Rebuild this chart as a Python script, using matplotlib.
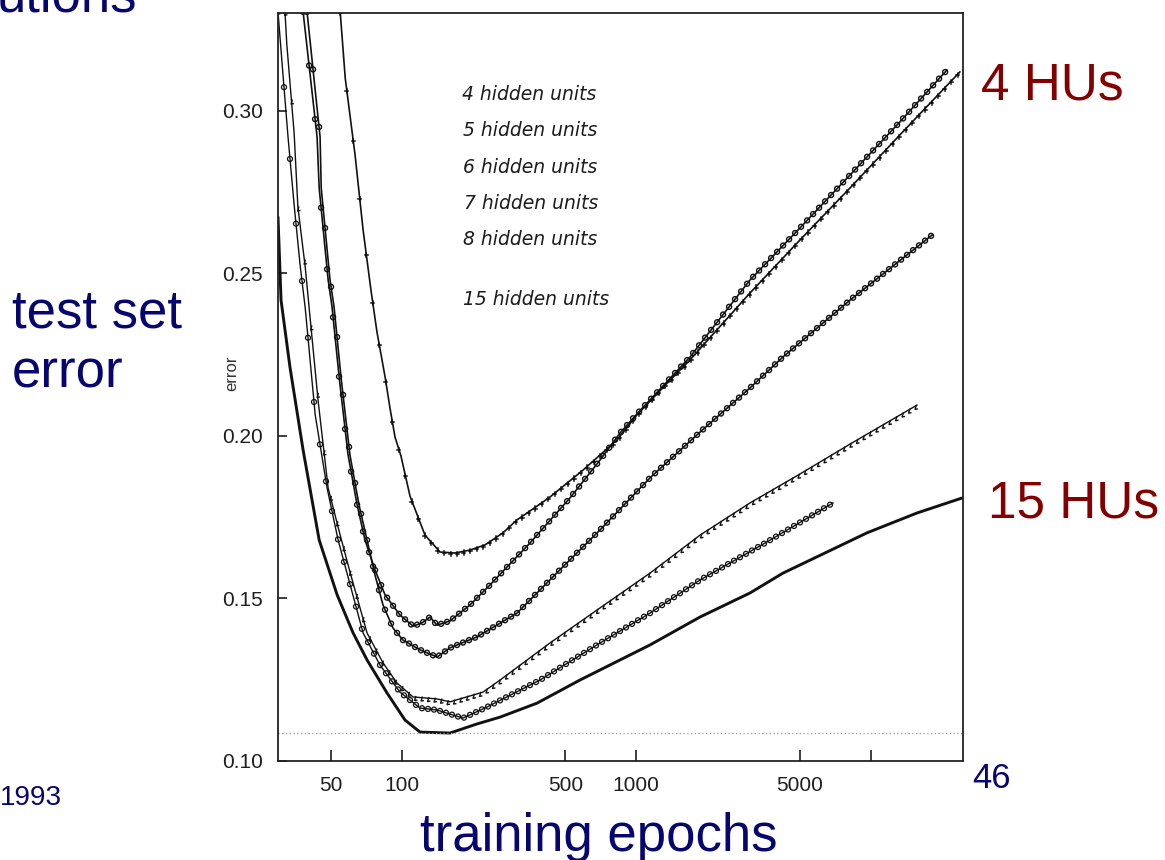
import numpy as np
import matplotlib
matplotlib.use("Agg")
import matplotlib.pyplot as plt
from matplotlib.ticker import FixedLocator, FixedFormatter, NullLocator
from matplotlib.patheffects import AbstractPathEffect
from matplotlib.path import Path
from matplotlib.transforms import Affine2D

# ---- test-set error vs. training epochs, per network size ----
hu4_epochs = [54.7, 57.5, 63.3, 68.5, 74.0, 78.5, 85.0, 89.2, 93.7, 99.4, 108.6, 125.8,
              145.8, 169, 195.7, 227, 270.6, 310.6, 343, 429, 594, 830, 1009, 1397,
              1698, 3062, 5000, 8175, 13330, 24040]
hu4_error = [0.3305, 0.310, 0.2865, 0.2634, 0.2449, 0.2320, 0.2182, 0.2086, 0.1997, 0.1938,
             0.1815, 0.1695, 0.1643, 0.1640, 0.1649, 0.1665, 0.1702, 0.1742, 0.1763, 0.1812,
             0.1895, 0.1988, 0.2065, 0.2172, 0.2234, 0.2440, 0.2603, 0.2763, 0.2926, 0.3120]

hu5_epochs = [38.0, 43.6, 44.5, 48.6, 50.5, 54.2, 59.1, 64.6, 69.8, 77.0, 85.0, 98.4, 111.9,
              122.2, 132.2, 141.6, 160.8, 195.7, 238.4, 353, 522, 702, 854, 1009, 1698,
              3062, 5000, 8175, 13330, 21180]
hu5_error = [0.3305, 0.2920, 0.2763, 0.2480, 0.2397, 0.2178, 0.1942, 0.1788, 0.1680, 0.1588,
             0.1511, 0.1449, 0.1415, 0.1425, 0.1443, 0.1418, 0.1431, 0.1480, 0.1542, 0.1671,
             0.1809, 0.1926, 0.2009, 0.2068, 0.2243, 0.2480, 0.2640, 0.2803, 0.2966, 0.3126]

hu6_epochs = [39.5, 44.9, 45.4, 49.5, 51.5, 55.2, 60.2, 65.8, 71.2, 77.0, 83.3, 91.9, 101.4,
              119.8, 141.6, 160.8, 209.7, 310.6, 473, 702, 1146, 1874, 3062, 4230, 8175, 18280]
hu6_error = [0.3305, 0.2920, 0.2763, 0.2480, 0.2397, 0.2178, 0.1942, 0.1788, 0.1680, 0.1572,
             0.1480, 0.1409, 0.1372, 0.1342, 0.1320, 0.1348, 0.1382, 0.1455, 0.1588, 0.1711,
             0.1871, 0.2012, 0.2148, 0.2243, 0.2418, 0.2618]

hu7_epochs = [31.8, 32.4, 34.8, 36.1, 38.8, 44.0, 48.6, 54.7, 60.2, 71.2, 83.3, 95.5, 111.9,
              141.6, 160.8, 222.4, 262.9, 429, 702, 1146, 1874, 3062, 5000, 8175, 15780]
hu7_error = [0.3305, 0.3203, 0.2932, 0.2705, 0.2520, 0.2111, 0.1840, 0.1695, 0.1582, 0.1394,
             0.1302, 0.1240, 0.1197, 0.1191, 0.1182, 0.1212, 0.1249, 0.1363, 0.1471, 0.1578,
             0.1695, 0.1794, 0.1883, 0.1975, 0.2095]

hu8_epochs = [29.7, 30.9, 32.8, 34.8, 36.9, 38.8, 42.8, 48.1, 53.6, 59.1, 68.5, 80.9, 98.4,
              119.8, 141.6, 182.7, 231.3, 389, 702, 1146, 1874, 3617, 6918]
hu8_error = [0.3305, 0.3148, 0.2917, 0.2711, 0.2526, 0.2394, 0.2065, 0.1840, 0.1680, 0.1566,
             0.1394, 0.1295, 0.1212, 0.1163, 0.1157, 0.1132, 0.1166, 0.1249, 0.1363, 0.1455,
             0.1557, 0.1674, 0.1794]

hu15_epochs = [29.7, 30.6, 33.4, 38.0, 44.5, 53.1, 62.1, 71.2, 86.7, 103.4, 119.8, 160.8,
               209.7, 262.9, 378, 576, 1146, 1874, 3062, 4230, 9660, 15780, 24520]
hu15_error = [0.2674, 0.2418, 0.2212, 0.1957, 0.1680, 0.1511, 0.1394, 0.1311, 0.1209, 0.1126,
              0.1089, 0.1086, 0.1114, 0.1135, 0.1178, 0.1249, 0.1357, 0.1443, 0.1517, 0.1578,
              0.1702, 0.1763, 0.1809]

floor_error = 0.1087

legend_labels = ["4 hidden units", "5 hidden units", "6 hidden units",
                 "7 hidden units", "8 hidden units", "15 hidden units"]
x_ticks = [50, 100, 500, 1000, 5000, 10000]
x_tick_labels = ["50", "100", "500", "1000", "5000", ""]
y_ticks = [0.10, 0.15, 0.20, 0.25, 0.30]
y_tick_labels = ["0.10", "0.15", "0.20", "0.25", "0.30"]


class BeadedStroke(AbstractPathEffect):
    """Draw the line, then stamp a small glyph along it at a fixed horizontal pitch."""

    def __init__(self, glyph, pitch=6.5, lw=0.8):
        super().__init__()
        self._glyph = glyph
        self._pitch = pitch
        self._lw = lw

    def draw_path(self, renderer, gc, tpath, affine, rgbFace=None):
        renderer.draw_path(gc, tpath, affine, rgbFace)
        xy = affine.transform(tpath.vertices)
        xs, ys = xy[:, 0], xy[:, 1]
        scale = renderer.points_to_pixels(1.0) / (100 / 72)
        along = np.arange(xs[0], xs[-1], self._pitch * scale)
        on_line = np.interp(along, xs, ys)
        gc2 = renderer.new_gc()
        gc2.copy_properties(gc)
        gc2.set_linewidth(self._lw)
        gc2.set_dashes(0, None)
        for x, y in zip(along, on_line):
            renderer.draw_path(gc2, self._glyph,
                               Affine2D().scale(scale).translate(x, y), None)
        gc2.restore()


ring = Path.circle((0, 0), 2.5)
down_tick = Path([(0, 1.0), (0, -3.2), (-1.6, -1.2), (1.6, -1.2)],
                 [Path.MOVETO, Path.LINETO, Path.MOVETO, Path.LINETO])
hook_tick = Path([(0.8, 0.5), (-0.4, -3.4), (1.8, -3.0)],
                 [Path.MOVETO, Path.LINETO, Path.LINETO])

# ---- figure ----
W, H = 1165, 860
fig = plt.figure(figsize=(W / 100, H / 100), dpi=100)
fig.patch.set_facecolor("white")


def px_text(x, y, s, **kw):
    """Place text using pixel coordinates measured from the top-left corner."""
    return fig.text(x / W, 1 - y / H, s, **kw)


ax = fig.add_axes([278 / W, 1 - 761 / H, (963 - 278) / W, (761 - 12.5) / H])
ax.set_xscale("log")
ax.set_xlim(29.7, 24800)
ax.set_ylim(0.10, 0.3303)

ink = "#111111"
ax.plot(hu4_epochs, hu4_error, color=ink, lw=1.2,
        path_effects=[BeadedStroke(down_tick, pitch=6.5, lw=1.1)])
ax.plot(hu5_epochs, hu5_error, color=ink, lw=1.2,
        path_effects=[BeadedStroke(ring, pitch=6.0, lw=1.0)])
ax.plot(hu6_epochs, hu6_error, color=ink, lw=1.2,
        path_effects=[BeadedStroke(ring, pitch=6.0, lw=1.0)])
ax.plot(hu7_epochs, hu7_error, color=ink, lw=1.0,
        path_effects=[BeadedStroke(hook_tick, pitch=6.5, lw=1.0)])
ax.plot(hu8_epochs, hu8_error, color=ink, lw=1.0,
        path_effects=[BeadedStroke(ring, pitch=6.0, lw=0.9)])
ax.plot(hu15_epochs, hu15_error, color=ink, lw=2.1, solid_capstyle="round",
        solid_joinstyle="round")

ax.axhline(floor_error, color="#9a9a9a", lw=0.9, ls=(0, (1, 2)))

# axes frame and ticks
for sp in ax.spines.values():
    sp.set_linewidth(1.3)
    sp.set_color("#222222")
ax.xaxis.set_major_locator(FixedLocator(x_ticks))
ax.xaxis.set_major_formatter(FixedFormatter(x_tick_labels))
ax.xaxis.set_minor_locator(NullLocator())
ax.set_yticks(y_ticks)
ax.set_yticklabels(y_tick_labels)
ax.tick_params(axis="x", direction="in", length=8, width=1.2, pad=11,
               labelsize=15, colors="#1e1e1e", top=False)
ax.tick_params(axis="y", direction="in", length=6.5, width=1.2, pad=11,
               labelsize=15, colors="#1e1e1e", right=False)
for lab in ax.get_xticklabels() + ax.get_yticklabels():
    lab.set_family("Liberation Sans")

# small axis caption of the printed chart
px_text(232, 373, "error", rotation=90, ha="center", va="center",
        family="Liberation Sans", fontsize=12, color="#333333")

# series key
key_baselines = [100.5, 136.5, 173, 209, 245, 305]
key_left = [462, 463, 463, 464, 463, 463]
for s, x, y in zip(legend_labels, key_left, key_baselines):
    px_text(x, y, s, ha="left", va="baseline", family="DejaVu Sans",
            style="italic", fontsize=13.5, color="#1c1c1c")

# slide annotations
navy = "#06066e"
dark_red = "#840000"
slide_font = "Liberation Sans"
px_text(-3, 12, "utions", ha="left", va="baseline", family=slide_font,
        fontsize=38, color=navy)
px_text(12, 328, "test set", ha="left", va="baseline", family=slide_font,
        fontsize=38, color=navy)
px_text(12, 388, "error", ha="left", va="baseline", family=slide_font,
        fontsize=38, color=navy)
px_text(599, 851, "training epochs", ha="center", va="baseline", family=slide_font,
        fontsize=38, color=navy)
px_text(0, 805, "1993", ha="left", va="baseline", family=slide_font,
        fontsize=20, color=navy)
px_text(972, 788, "46", ha="left", va="baseline", family=slide_font,
        fontsize=25, color=navy)
px_text(981, 100, "4 HUs", ha="left", va="baseline", family=slide_font,
        fontsize=37, color=dark_red)
px_text(988, 517, "15 HUs", ha="left", va="baseline", family=slide_font,
        fontsize=37, color=dark_red)

fig.savefig("out.png", dpi=100, facecolor="white")
